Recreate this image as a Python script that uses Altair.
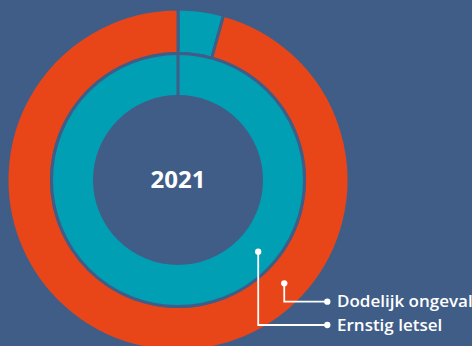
import math
import altair as alt
import pandas as pd

# ---- data ----
categories = ["Ernstig letsel", "Dodelijk ongeval"]
outer_values = [4.3, 95.7]     # outer ring (%)
inner_values = [100.0, 0.0]    # inner ring (%)
center_label = "2021"
legend_labels = ["Dodelijk ongeval", "Ernstig letsel"]

# ---- style / layout ----
W, H = 472, 346
BG = "#3f5d87"
ORANGE = "#e84619"
TEAL = "#009fb4"
CX, CY = 178, 180
FONT = "Open Sans"

rows = []
for ring, vals in (("outer", outer_values), ("inner", inner_values)):
    for i, (c, v) in enumerate(zip(categories, vals)):
        rows.append({"ring": ring, "cat": c, "value": v, "seq": i})
df = pd.DataFrame(rows)

color = alt.Color("cat:N", scale=alt.Scale(domain=categories, range=[TEAL, ORANGE]), legend=None)

def ring(name, r_out, r_in):
    return alt.Chart(df).transform_filter(alt.datum.ring == name).mark_arc(
        radius=r_out, radius2=r_in, stroke=BG, strokeWidth=3
    ).encode(
        theta=alt.Theta("value:Q", stack=True),
        color=color,
        order=alt.Order("seq:Q"),
        x=alt.value(CX),
        y=alt.value(CY),
    )

outer = ring("outer", 171, 126.5)
inner = ring("inner", 126.5, 83.5)

center = alt.Chart(pd.DataFrame({"t": [center_label]})).mark_text(
    font=FONT, fontSize=24, fontWeight="bold", color="white", baseline="middle", align="center"
).encode(text="t:N", x=alt.value(CX), y=alt.value(181))

# leader line geometry (anchor at angle/radius within each ring)
def polar(angle_deg, r):
    a = math.radians(angle_deg)
    return CX + r * math.sin(a), CY - r * math.cos(a)

anchors = {"Dodelijk ongeval": polar(134.2, 148.2), "Ernstig letsel": polar(131.8, 107.6)}
elbow_y = {"Dodelijk ongeval": 301.7, "Ernstig letsel": 325.0}
END_X = 327.3
TEXT_X = 337.0

line_rows, dot_rows, text_rows = [], [], []
for lab in legend_labels:
    ax, ay = anchors[lab]
    ey = elbow_y[lab]
    line_rows += [
        {"lab": lab, "k": 0, "x": ax, "y": ay},
        {"lab": lab, "k": 1, "x": ax, "y": ey},
        {"lab": lab, "k": 2, "x": END_X, "y": ey},
    ]
    dot_rows += [{"x": ax, "y": ay}, {"x": END_X, "y": ey}]
    text_rows.append({"lab": lab, "x": TEXT_X, "y": ey})

xs = alt.Scale(domain=[0, W], range=[0, W])
ys = alt.Scale(domain=[0, H], range=[0, H])

lines = alt.Chart(pd.DataFrame(line_rows)).mark_line(color="white", strokeWidth=1.8).encode(
    x=alt.X("x:Q", scale=xs, axis=None),
    y=alt.Y("y:Q", scale=ys, axis=None),
    detail="lab:N",
    order="k:Q",
)
dots = alt.Chart(pd.DataFrame(dot_rows)).mark_circle(color="white", opacity=1, size=40).encode(
    x=alt.X("x:Q", scale=xs, axis=None),
    y=alt.Y("y:Q", scale=ys, axis=None),
)
texts = alt.Chart(pd.DataFrame(text_rows)).mark_text(
    font=FONT, fontSize=17, fontWeight=600, color="white", align="left", baseline="middle", dy=0.5
).encode(
    x=alt.X("x:Q", scale=xs, axis=None),
    y=alt.Y("y:Q", scale=ys, axis=None),
    text="lab:N",
)

chart = alt.layer(outer, inner, center, lines, dots, texts).resolve_scale(theta="independent").properties(
    width=W, height=H, background=BG, padding=0, autosize=alt.AutoSizeParams(type="none")
).configure_view(stroke=None)

chart.save("out.html", embed_options={"renderer": "svg", "actions": False})
